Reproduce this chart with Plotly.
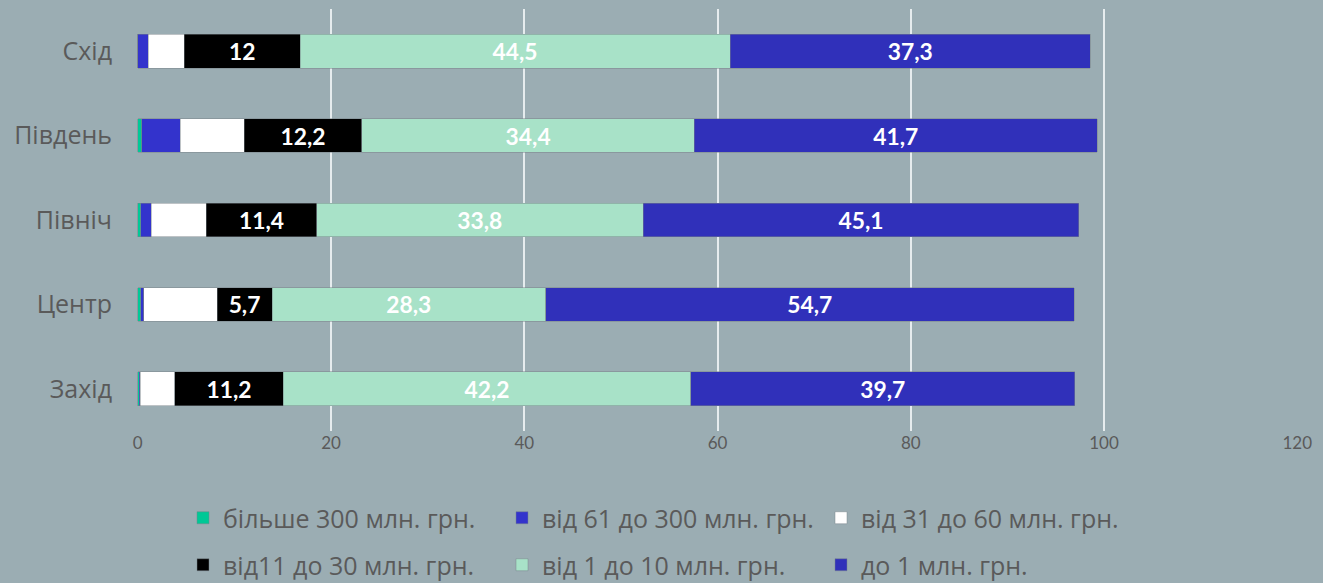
import plotly.graph_objects as go

regions = ["Схід", "Південь", "Північ", "Центр", "Захід"]
series_names = ["більше 300 млн. грн.", "від 61 до 300 млн. грн.", "від 31 до 60 млн. грн.",
                "від11 до 30 млн. грн.", "від 1 до 10 млн. грн.", "до 1 млн. грн."]
over_300 = [0.0, 0.4, 0.3, 0.3, 0.15]
from_61_300 = [1.1, 4.0, 1.1, 0.3, 0.1]
from_31_60 = [3.7, 6.6, 5.7, 7.6, 3.6]
from_11_30 = [12, 12.2, 11.4, 5.7, 11.2]
from_1_10 = [44.5, 34.4, 33.8, 28.3, 42.2]
under_1 = [37.3, 41.7, 45.1, 54.7, 39.7]
x_ticks = [0, 20, 40, 60, 80, 100, 120]

values = [over_300, from_61_300, from_31_60, from_11_30, from_1_10, under_1]
colors = ["#00C896", "#3333CC", "#FFFFFF", "#000000", "#A8E2C8", "#3030BA"]
show_labels = [False, False, False, True, True, True]
legend_ids = ["legend", "legend", "legend", "legend2", "legend2", "legend2"]

NUM_FONT = "Lato"
TXT_FONT = "Open Sans"
GREY = "#5A5A5A"
fig = go.Figure()
for name, vals, col, lab, lg in zip(series_names, values, colors, show_labels, legend_ids):
    fig.add_trace(go.Bar(
        y=regions, x=vals, name=name, orientation="h", legend=lg,
        marker=dict(color=col, line=dict(color="rgba(120,130,135,0.8)", width=0.6)),
        text=[str(v).replace(".", ",") for v in vals] if lab else None,
        textposition="inside" if lab else "none",
        insidetextanchor="middle", textangle=0,
        textfont=dict(family=NUM_FONT, size=23, color="white", weight="bold"),
        hoverinfo="x+name",
    ))

leg_common = dict(orientation="h", xref="container", yref="container", xanchor="left", yanchor="middle",
                  entrywidth=274, entrywidthmode="pixels", traceorder="normal",
                  font=dict(family=TXT_FONT, size=25, color=GREY), bgcolor="rgba(0,0,0,0)")

fig.update_layout(
    barmode="stack",
    bargap=0.6,
    width=1323, height=583,
    paper_bgcolor="#9BADB3",
    plot_bgcolor="#9BADB3",
    margin=dict(l=137, r=25, t=9, b=152),
    font=dict(family=TXT_FONT, color=GREY),
    xaxis=dict(range=[-0.08, 120.08], tickvals=x_ticks, showgrid=True, gridcolor="#E6ECEE", gridwidth=2,
               zeroline=False, tickfont=dict(family=NUM_FONT, size=17, color=GREY), fixedrange=True),
    yaxis=dict(categoryorder="array", categoryarray=regions[::-1],
               tickfont=dict(family=TXT_FONT, size=25, color=GREY),
               ticklabelstandoff=24, showgrid=False, fixedrange=True),
    legend=dict(x=183 / 1323, y=1 - 518 / 583, **leg_common),
    legend2=dict(x=183 / 1323, y=1 - 565 / 583, **leg_common),
)
fig.write_html("out.html", config={"displayModeBar": False},
               post_script="document.body.style.margin='0';document.body.style.overflow='hidden';")
